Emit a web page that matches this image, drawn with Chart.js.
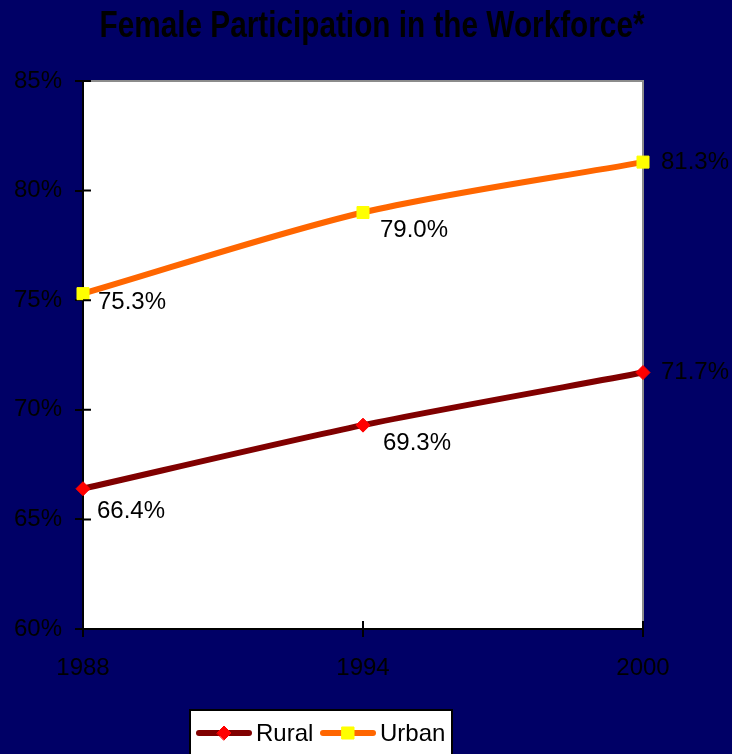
<!DOCTYPE html>
<html>
<head>
<meta charset="utf-8">
<script src="https://cdn.jsdelivr.net/npm/chart.js@4.4.0/dist/chart.umd.min.js"></script>
<style>
  html, body { margin: 0; padding: 0; background: #000066; }
  canvas { display: block; }
</style>
</head>
<body>
<canvas id="chart" width="732" height="754"></canvas>
<script>
// --- data ---
const years = ["1988", "1994", "2000"];
const rural = [66.4, 69.3, 71.7];
const urban = [75.3, 79.0, 81.3];
const yMin = 60, yMax = 85, yStep = 5;

const titleText = "Female Participation in the Workforce*";
const labelFont = "24px 'Liberation Sans', Arial, sans-serif";

// where each value label sits relative to its point (dx to text left, dy to text middle)
const labelOffsets = [
  [[14, 23], [20, 18], [18, 0]],
  [[15, 9], [17, 18], [18, 0]],
];

// background, plot area, title, labels, legend
const framePlugin = {
  id: "frame",
  beforeDraw(chart) {
    const { ctx, chartArea: a } = chart;
    ctx.save();
    ctx.fillStyle = "#000066";
    ctx.fillRect(0, 0, chart.width, chart.height);
    ctx.fillStyle = "#ffffff";
    ctx.fillRect(a.left, a.top, a.right - a.left, a.bottom - a.top);
    ctx.strokeStyle = "#8c8c8c";
    ctx.lineWidth = 2;
    ctx.beginPath();
    ctx.moveTo(a.left, a.top);
    ctx.lineTo(a.right, a.top);
    ctx.lineTo(a.right, a.bottom);
    ctx.stroke();

    // title, squeezed to the width of the original
    ctx.font = "bold 37px 'Liberation Sans Narrow', 'Liberation Sans', Arial, sans-serif";
    ctx.fillStyle = "#000000";
    ctx.textAlign = "center";
    ctx.textBaseline = "middle";
    const w = ctx.measureText(titleText).width;
    const sx = Math.min(1, 545 / w);
    ctx.translate(372, 27);
    ctx.scale(sx, 1);
    ctx.fillText(titleText, 0, 0);
    ctx.restore();
  },
  afterDraw(chart) {
    // inner halves of the cross tick marks
    const { ctx, chartArea: a, scales } = chart;
    ctx.save();
    ctx.strokeStyle = "#000000";
    ctx.lineWidth = 2;
    ctx.beginPath();
    scales.y.ticks.forEach((t) => {
      const y = scales.y.getPixelForValue(t.value);
      ctx.moveTo(a.left, y);
      ctx.lineTo(a.left + 8, y);
    });
    years.forEach((yr, i) => {
      const x = scales.x.getPixelForValue(i);
      ctx.moveTo(x, a.bottom);
      ctx.lineTo(x, a.bottom - 8);
    });
    ctx.stroke();

    // value labels
    ctx.font = labelFont;
    ctx.fillStyle = "#000000";
    ctx.textAlign = "left";
    ctx.textBaseline = "middle";
    chart.data.datasets.forEach((ds, di) => {
      const meta = chart.getDatasetMeta(di);
      meta.data.forEach((pt, i) => {
        const off = labelOffsets[di][i];
        ctx.fillText(ds.data[i].toFixed(1) + "%", pt.x + off[0], pt.y + off[1]);
      });
    });

    // legend box at the bottom
    const bx = 190, by = 710, bw = 262, bh = 60;
    ctx.fillStyle = "#ffffff";
    ctx.fillRect(bx, by, bw, bh);
    ctx.strokeStyle = "#000000";
    ctx.lineWidth = 2;
    ctx.strokeRect(bx, by, bw, bh);
    const itemX = [196, 320];
    const ly = 733;
    chart.data.datasets.forEach((ds, di) => {
      const x0 = itemX[di];
      ctx.strokeStyle = ds.borderColor;
      ctx.lineWidth = 6;
      ctx.lineCap = "round";
      ctx.beginPath();
      ctx.moveTo(x0 + 3, ly);
      ctx.lineTo(x0 + 53, ly);
      ctx.stroke();
      ctx.fillStyle = ds.pointBackgroundColor;
      ctx.strokeStyle = ds.pointBorderColor;
      ctx.lineWidth = 1;
      Chart.helpers.drawPoint(ctx, {
        pointStyle: ds.pointStyle,
        radius: ds.pointRadius,
        borderWidth: 1,
        rotation: 0,
      }, x0 + 28, ly);
      ctx.fillStyle = "#000000";
      ctx.fillText(ds.label, x0 + 60, ly + 1);
    });
    ctx.restore();
  },
};

new Chart(document.getElementById("chart"), {
  type: "line",
  data: {
    labels: years,
    datasets: [
      {
        label: "Rural",
        data: rural,
        borderColor: "#800000",
        borderWidth: 6,
        tension: 0.25,
        pointStyle: "rectRot",
        pointRadius: 7,
        pointBackgroundColor: "#ff0000",
        pointBorderColor: "#ff0000",
        pointBorderWidth: 1,
        clip: false,
      },
      {
        label: "Urban",
        data: urban,
        borderColor: "#ff6600",
        borderWidth: 6,
        tension: 0.3,
        pointStyle: "rect",
        pointRadius: 8.5,
        pointBackgroundColor: "#ffff00",
        pointBorderColor: "#ffff00",
        pointBorderWidth: 1,
        clip: false,
      },
    ],
  },
  options: {
    responsive: false,
    animation: false,
    layout: { padding: { top: 81, left: 0, right: 89, bottom: 70 } },
    plugins: {
      legend: { display: false },
      title: { display: false },
      tooltip: { enabled: false },
    },
    scales: {
      x: {
        type: "category",
        offset: false,
        afterFit: (s) => { s.height = 55; },
        grid: { drawOnChartArea: false, drawTicks: true, tickLength: 8, color: "#000000", lineWidth: 2 },
        border: { display: true, color: "#000000", width: 2 },
        ticks: { color: "#000000", font: { family: "'Liberation Sans', Arial, sans-serif", size: 24 }, padding: 17, maxRotation: 0 },
      },
      y: {
        min: yMin,
        max: yMax,
        afterFit: (s) => { s.width = 83; },
        grid: { drawOnChartArea: false, drawTicks: true, tickLength: 8, color: "#000000", lineWidth: 2 },
        border: { display: true, color: "#000000", width: 2 },
        ticks: {
          stepSize: yStep,
          color: "#000000",
          font: { family: "'Liberation Sans', Arial, sans-serif", size: 24 },
          padding: 13,
          callback: (v) => v + "%",
        },
      },
    },
  },
  plugins: [framePlugin],
});
</script>
</body>
</html>
